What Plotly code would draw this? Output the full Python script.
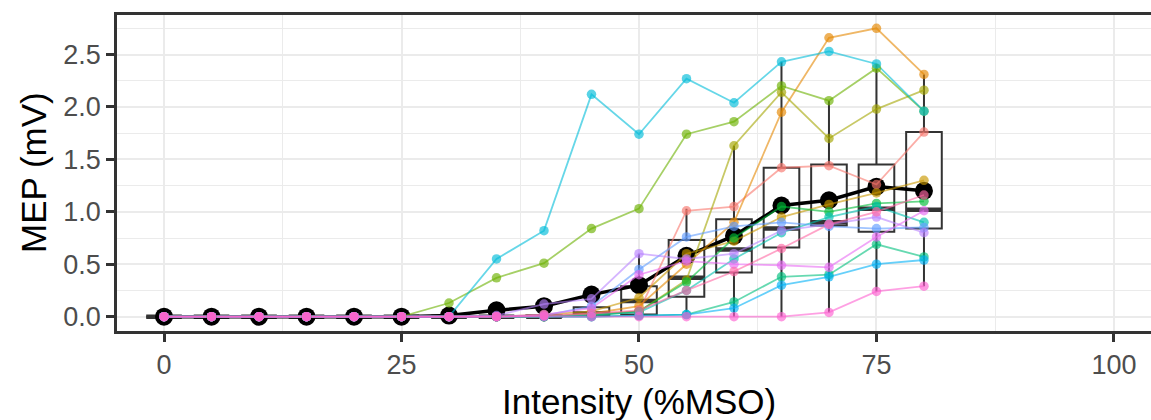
import math
import plotly.graph_objects as go

# ---------------- data ----------------
intensity = [0, 5, 10, 15, 20, 25, 30, 35, 40, 45, 50, 55, 60, 65, 70, 75, 80]

z6 = [0, 0, 0, 0, 0, 0]
subj_01 = z6 + [0, 0, 0, 0.02, 0.05, 1.01, 1.05, 1.42, 1.44, 1.26, 1.76]
subj_02 = z6 + [0, 0, 0, 0.03, 0.10, 0.50, 0.90, 1.95, 2.66, 2.75, 2.31]
subj_03 = z6 + [0, 0, 0.02, 0.05, 0.18, 0.60, 0.72, 0.95, 1.07, 1.18, 1.30]
subj_04 = z6 + [0, 0, 0, 0.02, 0.05, 0.35, 1.63, 2.14, 1.70, 1.98, 2.16]
subj_05 = z6 + [0.13, 0.37, 0.51, 0.84, 1.03, 1.74, 1.86, 2.20, 2.06, 2.37, 1.96]
subj_06 = z6 + [0, 0, 0, 0.01, 0.05, 0.33, 0.75, 1.05, 1.00, 1.08, 1.10]
subj_07 = z6 + [0, 0, 0, 0, 0.01, 0.02, 0.14, 0.38, 0.40, 0.69, 0.57]
subj_08 = z6 + [0, 0, 0, 0.02, 0.04, 0.25, 0.55, 0.80, 0.95, 1.05, 0.90]
subj_09 = z6 + [0, 0.55, 0.82, 2.12, 1.74, 2.27, 2.04, 2.43, 2.53, 2.41, 1.96]
subj_10 = z6 + [0, 0, 0, 0, 0.01, 0.02, 0.08, 0.30, 0.38, 0.50, 0.54]
subj_11 = z6 + [0, 0, 0.01, 0.10, 0.45, 0.76, 0.86, 0.90, 0.86, 0.84, 0.85]
subj_12 = z6 + [0, 0.01, 0.12, 0.17, 0.60, 0.55, 0.60, 0.82, 0.88, 0.95, 0.80]
subj_13 = z6 + [0, 0, 0.02, 0.08, 0.40, 0.53, 0.50, 0.49, 0.47, 0.76, 1.01]
subj_14 = z6 + [0, 0, 0, 0, 0, 0, 0, 0, 0.04, 0.24, 0.29]
subj_15 = z6 + [0, 0, 0.01, 0.03, 0.06, 0.25, 0.43, 0.65, 0.88, 1.00, 1.16]

subjects = [subj_01, subj_02, subj_03, subj_04, subj_05, subj_06, subj_07, subj_08,
            subj_09, subj_10, subj_11, subj_12, subj_13, subj_14, subj_15]

# group mean per intensity
mean_mep = [0, 0, 0, 0, 0, 0, 0.01, 0.06, 0.10, 0.21, 0.30, 0.58, 0.77, 1.06, 1.11, 1.24, 1.20]

# box-plot statistics per intensity
box_low = [0, 0, 0, 0, 0, 0, 0, 0, 0, 0.00, 0.00, 0.02, 0.00, 0.00, 0.04, 0.24, 0.29]
box_q1 = [0, 0, 0, 0, 0, 0, 0, 0, 0, 0.01, 0.02, 0.19, 0.42, 0.66, 0.87, 0.81, 0.84]
box_med = [0, 0, 0, 0, 0, 0, 0, 0, 0, 0.03, 0.15, 0.37, 0.64, 0.84, 0.90, 1.03, 1.02]
box_q3 = [0, 0, 0, 0, 0, 0, 0, 0, 0.01, 0.09, 0.29, 0.73, 0.93, 1.42, 1.45, 1.45, 1.76]
box_high = [0, 0, 0, 0, 0, 0, 0, 0, 0.02, 0.17, 0.60, 1.03, 1.63, 2.43, 2.06, 2.41, 2.31]

x_ticks = [0, 25, 50, 75, 100]
y_ticks = [0, 0.5, 1.0, 1.5, 2.0, 2.5]


# ---------------- helpers ----------------
def hcl_hex(h, c=100.0, l=65.0):
    Xn, Yn, Zn = 95.047, 100.0, 108.883
    un = 4 * Xn / (Xn + 15 * Yn + 3 * Zn)
    vn = 9 * Yn / (Xn + 15 * Yn + 3 * Zn)
    u = c * math.cos(math.radians(h))
    v = c * math.sin(math.radians(h))
    Y = Yn * ((l + 16) / 116) ** 3
    up = u / (13 * l) + un
    vp = v / (13 * l) + vn
    X = 9 * Y * up / (4 * vp)
    Z = (12 - 3 * up - 20 * vp) * Y / (4 * vp)
    X, Y, Z = X / 100, Y / 100, Z / 100
    r = 3.2404542 * X - 1.5371385 * Y - 0.4985314 * Z
    g = -0.9692660 * X + 1.8760108 * Y + 0.0415560 * Z
    b = 0.0556434 * X - 0.2040259 * Y + 1.0572252 * Z

    def gam(t):
        t = 12.92 * t if t <= 0.0031308 else 1.055 * t ** (1 / 2.4) - 0.055
        return int(round(min(max(t, 0), 1) * 255))

    return gam(r), gam(g), gam(b)


n = len(subjects)
hues = [15 + 360 * i / n for i in range(n)]
rgbs = [hcl_hex(h) for h in hues]

BOX_W = 3.75
GRID = "#EBEBEB"
DARK = "#333333"
FONT = "Liberation Sans, Arial, sans-serif"

fig = go.Figure()

# boxplots
fig.add_trace(go.Box(
    x=intensity, q1=box_q1, median=box_med, q3=box_q3,
    lowerfence=box_low, upperfence=box_high,
    width=BOX_W, fillcolor="white", line=dict(color=DARK, width=2),
    whiskerwidth=0, boxpoints=False, hoverinfo="skip", showlegend=False,
))

# thick median bars
mx, my = [], []
for xi, m in zip(intensity, box_med):
    mx += [xi - BOX_W / 2, xi + BOX_W / 2, None]
    my += [m, m, None]
fig.add_trace(go.Scatter(x=mx, y=my, mode="lines",
                         line=dict(color=DARK, width=4.5), hoverinfo="skip"))

# group mean
fig.add_trace(go.Scatter(x=intensity, y=mean_mep, mode="lines+markers",
                         line=dict(color="black", width=3.5),
                         marker=dict(color="black", size=18), hoverinfo="skip"))

# draw order: pink subject last
order = [0, 1, 2, 3, 4, 5, 6, 7, 8, 9, 10, 11, 12, 14, 13]
for i in order:
    r, g, b = rgbs[i]
    fig.add_trace(go.Scatter(x=intensity, y=subjects[i], mode="lines",
                             line=dict(color=f"rgba({r},{g},{b},0.6)", width=1.8),
                             hoverinfo="skip"))
for i in order:
    r, g, b = rgbs[i]
    fig.add_trace(go.Scatter(x=intensity, y=subjects[i], mode="markers",
                             marker=dict(color=f"rgba({r},{g},{b},0.65)", size=9.5),
                             hoverinfo="skip"))

axis_common = dict(
    showline=True, linecolor=DARK, linewidth=2.5,
    ticks="outside", ticklen=8, tickwidth=2.5, tickcolor=DARK,
    showgrid=True, gridcolor=GRID, gridwidth=2.4, zeroline=False,
    tickfont=dict(family=FONT, size=27, color="#4D4D4D"),
)

fig.update_layout(
    width=1151, height=420,
    margin=dict(l=117, r=0, t=15, b=89),
    paper_bgcolor="white", plot_bgcolor="white",
    showlegend=False,
    xaxis=dict(range=[-4.95, 103.9], tickvals=x_ticks, mirror=True,
               minor=dict(tickvals=[12.5, 37.5, 62.5, 87.5], showgrid=True,
                          gridcolor=GRID, gridwidth=1.2, ticks=""),
               **axis_common),
    yaxis=dict(range=[-0.137, 2.877], tickvals=y_ticks, tickformat=".1f",
               minor=dict(tickvals=[0.25, 0.75, 1.25, 1.75, 2.25, 2.75], showgrid=True,
                          gridcolor=GRID, gridwidth=1.2, ticks=""),
               **axis_common),
    annotations=[
        dict(text="Intensity (%MSO)", x=50, xref="x", y=0, yref="paper",
             yanchor="middle", yshift=-70, showarrow=False,
             font=dict(family=FONT, size=35, color="black")),
        dict(text="MEP (mV)", x=0, xref="paper", xanchor="center", xshift=-84,
             y=0.5, yref="paper", yanchor="middle", textangle=-90, showarrow=False,
             font=dict(family=FONT, size=35, color="black")),
    ],
)

fig.write_html("out.html")
